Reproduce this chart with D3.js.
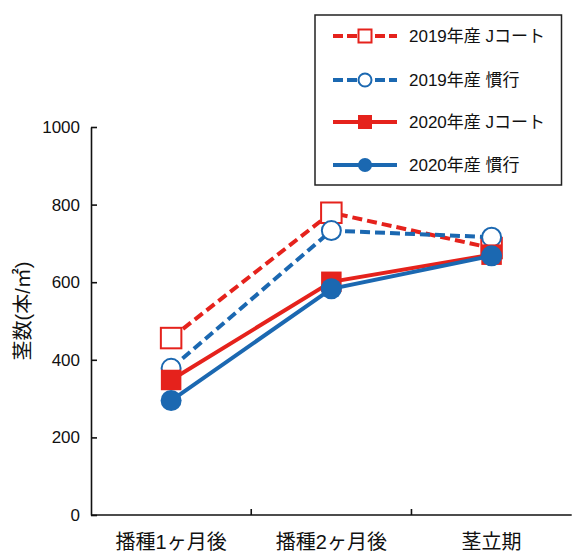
<!DOCTYPE html>
<html>
<head>
<meta charset="utf-8">
<script src="https://cdn.jsdelivr.net/npm/d3@7/dist/d3.min.js"></script>
<style>
  html, body { margin: 0; padding: 0; background: #fff; }
  svg { display: block; }
  text { font-family: "Liberation Sans", Arial, "Noto Sans CJK JP", sans-serif; fill: #111; }
</style>
</head>
<body>
<svg id="chart" width="572" height="554"></svg>
<script>
// Stem counts per m² at three growth stages
const categories = ["播種1ヶ月後", "播種2ヶ月後", "茎立期"];
const yTicks = [0, 200, 400, 600, 800, 1000];
const seriesNames = ["2019年産 Jコート", "2019年産 慣行", "2020年産 Jコート", "2020年産 慣行"];
const j2019 = [456, 779, 688];
const kanko2019 = [378, 733, 716];
const j2020 = [348, 601, 671];
const kanko2020 = [295, 583, 668];

const RED = "#e5221c";
const BLUE = "#1b68b1";

const series = [
  { name: seriesNames[0], values: j2019, color: RED, dashed: true, shape: "square", filled: false },
  { name: seriesNames[1], values: kanko2019, color: BLUE, dashed: true, shape: "circle", filled: false },
  { name: seriesNames[2], values: j2020, color: RED, dashed: false, shape: "square", filled: true },
  { name: seriesNames[3], values: kanko2020, color: BLUE, dashed: false, shape: "circle", filled: true }
];

const svg = d3.select("#chart");
const plotLeft = 91, plotRight = 571.7, plotTop = 127, plotBottom = 515;

const x = d3.scaleBand().domain(categories).range([plotLeft, plotRight]).padding(0);
const y = d3.scaleLinear().domain([0, 1000]).range([plotBottom, plotTop]);

// Y axis with inward ticks
const yAxis = d3.axisLeft(y).tickValues(yTicks).tickSizeInner(-6).tickSizeOuter(0).tickPadding(11)
  .tickFormat(d3.format("d"));
const gy = svg.append("g").attr("transform", `translate(${plotLeft},0)`).call(yAxis);
gy.select(".domain").attr("stroke", "#111").attr("stroke-width", 1.6);
gy.selectAll(".tick line").attr("stroke", "#111").attr("stroke-width", 1.6);
gy.selectAll(".tick text").attr("font-size", 17).attr("fill", "#111")
  .attr("font-family", "\"Liberation Sans\", Arial, sans-serif");

// X axis: baseline with inward ticks between categories
const gx = svg.append("g");
gx.append("line").attr("x1", plotLeft).attr("x2", plotRight).attr("y1", plotBottom).attr("y2", plotBottom)
  .attr("stroke", "#111").attr("stroke-width", 1.6);
gx.selectAll("line.tick").data(categories.slice(1)).join("line").attr("class", "tick")
  .attr("x1", d => x(d)).attr("x2", d => x(d)).attr("y1", plotBottom).attr("y2", plotBottom - 6)
  .attr("stroke", "#111").attr("stroke-width", 1.6);
gx.selectAll("text").data(categories).join("text")
  .attr("x", d => x(d) + x.bandwidth() / 2).attr("y", 549)
  .attr("text-anchor", "middle").attr("font-size", 20)
  .text(d => d);

// Y axis title
svg.append("text")
  .attr("transform", "translate(30,311) rotate(-90)")
  .attr("text-anchor", "middle").attr("font-size", 20)
  .text("茎数(本/㎡)");

function drawMarker(g, s, cx, cy, size) {
  if (s.shape === "square") {
    g.append("rect")
      .attr("x", cx - size / 2).attr("y", cy - size / 2)
      .attr("width", size).attr("height", size)
      .attr("fill", s.filled ? s.color : "#fff")
      .attr("stroke", s.color).attr("stroke-width", s.filled ? 0 : 2);
  } else {
    g.append("circle")
      .attr("cx", cx).attr("cy", cy).attr("r", size / 2)
      .attr("fill", s.filled ? s.color : "#fff")
      .attr("stroke", s.color).attr("stroke-width", s.filled ? 0 : 2);
  }
}

const line = d3.line()
  .x((d, i) => x(categories[i]) + x.bandwidth() / 2)
  .y(d => y(d));

series.forEach(s => {
  const g = svg.append("g");
  g.append("path").datum(s.values).attr("d", line)
    .attr("fill", "none").attr("stroke", s.color).attr("stroke-width", 4)
    .attr("stroke-dasharray", s.dashed ? "10,5" : null);
  s.values.forEach((v, i) => {
    const cx = x(categories[i]) + x.bandwidth() / 2;
    const size = s.shape === "square" ? 20.5 : (s.filled ? 21 : 19);
    drawMarker(g, s, cx, y(v), size);
  });
});

// Legend
const legend = svg.append("g");
legend.append("rect").attr("x", 315).attr("y", 15).attr("width", 246.5).attr("height", 170)
  .attr("fill", "#fff").attr("stroke", "#222").attr("stroke-width", 1.5);
const rowY = [36, 80, 122, 165];
series.forEach((s, i) => {
  const g = legend.append("g");
  const ry = rowY[i];
  g.append("line").attr("x1", 333).attr("x2", 397).attr("y1", ry).attr("y2", ry)
    .attr("stroke", s.color).attr("stroke-width", 4)
    .attr("stroke-dasharray", s.dashed ? "10,4" : null);
  drawMarker(g, s, 365, ry, s.filled ? 14 : 13);
  g.append("text").attr("x", 409).attr("y", ry).attr("dy", "0.36em")
    .attr("font-size", 17).text(s.name);
});
</script>
</body>
</html>
